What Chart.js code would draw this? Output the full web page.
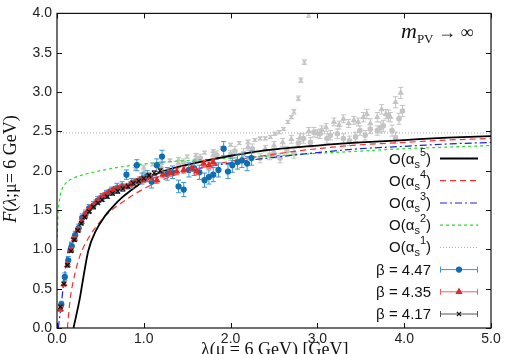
<!DOCTYPE html>
<html>
<head>
<meta charset="utf-8">
<script src="https://cdn.jsdelivr.net/npm/chart.js@4.4.1/dist/chart.umd.min.js"></script>
<style>
  html, body { margin: 0; padding: 0; background: #fff; }
  #wrap { width: 506px; height: 354px; position: relative; }
</style>
</head>
<body>
<div id="wrap"><canvas id="chart"></canvas></div>
<script>
"use strict";

// axis ticks
const xTicks = [0, 1, 2, 3, 4, 5];
const yTicks = [0, 0.5, 1, 1.5, 2, 2.5, 3, 3.5, 4];

// lattice data, beta = 4.17 / 4.35 / 4.47
const b417X = [0.04,0.08,0.12,0.16,0.20,0.24,0.28,0.32,0.37,0.42,0.47,0.52,0.58,0.64,0.70,0.76,0.82,0.88,0.94,1.00,1.06,1.12,1.19];
const b417Y = [0.27,0.56,0.80,0.98,1.12,1.24,1.33,1.41,1.48,1.54,1.59,1.63,1.67,1.71,1.74,1.77,1.80,1.84,1.87,1.90,1.94,1.97,2.00];
const b417E = [0.02,0.02,0.02,0.02,0.02,0.02,0.02,0.02,0.02,0.02,0.02,0.02,0.02,0.02,0.03,0.03,0.03,0.03,0.03,0.03,0.03,0.03,0.03];

const b435X = [0.04,0.08,0.12,0.16,0.20,0.24,0.28,0.32,0.36,0.40,0.45,0.50,0.55,0.60,0.65,0.70,0.75,0.80,0.85,0.90,0.95,1.00,1.07,1.15,1.22,1.30,1.38,1.46,1.55,1.61,1.69,1.75,1.80];
const b435Y = [0.24,0.56,0.80,0.99,1.13,1.25,1.35,1.43,1.49,1.54,1.60,1.65,1.69,1.73,1.76,1.78,1.79,1.80,1.83,1.86,1.88,1.89,1.92,1.88,1.95,1.97,1.99,2.01,2.03,1.99,2.09,2.07,2.11];
const b435E = [0.03,0.03,0.03,0.03,0.03,0.03,0.03,0.03,0.03,0.03,0.03,0.03,0.03,0.03,0.03,0.03,0.03,0.03,0.03,0.03,0.04,0.04,0.04,0.04,0.04,0.04,0.04,0.04,0.04,0.04,0.04,0.04,0.04];

const b447X = [0.05,0.09,0.13,0.17,0.21,0.25,0.29,0.33,0.37,0.42,0.47,0.52,0.57,0.63,0.69,0.75,0.80,0.86,0.92,0.98,1.04,1.09,1.15,1.21,1.27,1.33,1.40,1.46,1.52,1.58,1.64,1.70,1.75,1.80,1.86,1.92,1.97,2.02,2.08,2.13,2.19,2.24];
const b447Y = [0.30,0.65,0.86,1.04,1.18,1.27,1.40,1.45,1.52,1.56,1.62,1.66,1.70,1.74,1.78,1.80,1.95,1.84,2.07,1.90,1.93,1.86,2.07,2.18,1.96,1.98,1.80,1.76,2.01,2.03,1.98,1.88,1.92,1.95,2.01,2.28,1.99,2.07,2.11,2.13,2.09,2.16];
const b447E = [0.04,0.05,0.05,0.05,0.05,0.05,0.05,0.05,0.05,0.05,0.05,0.05,0.05,0.05,0.06,0.06,0.06,0.06,0.07,0.07,0.07,0.08,0.08,0.08,0.08,0.08,0.08,0.09,0.09,0.09,0.09,0.09,0.09,0.09,0.09,0.09,0.09,0.09,0.09,0.09,0.09,0.09];

// finite m_PV data (grey)
const grayAX = [0.90,1.00,1.10,1.20,1.30,1.40,1.50,1.60,1.70,1.80,1.90,2.00,2.10,2.20,2.28,2.34,2.40,2.46,2.51,2.56,2.61,2.66,2.70,2.73,2.78,2.81,2.85,2.90];
const grayAY = [2.02,2.05,2.08,2.10,2.13,2.15,2.18,2.20,2.23,2.25,2.29,2.33,2.35,2.37,2.39,2.41,2.41,2.43,2.47,2.49,2.53,2.62,2.68,2.75,2.92,3.15,3.38,3.98];
const grayAE = [0.02,0.02,0.02,0.02,0.02,0.02,0.02,0.02,0.02,0.02,0.02,0.02,0.02,0.02,0.02,0.02,0.02,0.02,0.02,0.02,0.02,0.02,0.02,0.03,0.03,0.03,0.03,0.03];

const grayBX = [1.00,1.20,1.40,1.60,1.80,2.00,2.20,2.40,2.50,2.60,2.70,2.80,2.90,3.00,3.05,3.10,3.19,3.25,3.30,3.36,3.42,3.47,3.53,3.57,3.61,3.69,3.74,3.79,3.84,3.90,3.96];
const grayBY = [1.98,2.05,2.10,2.15,2.20,2.22,2.30,2.28,2.32,2.36,2.40,2.42,2.50,2.47,2.52,2.55,2.62,2.58,2.66,2.60,2.64,2.62,2.68,2.72,2.60,2.68,2.78,2.72,2.68,2.87,2.99];
const grayBE = [0.03,0.03,0.03,0.03,0.04,0.04,0.04,0.04,0.05,0.05,0.05,0.05,0.05,0.05,0.05,0.05,0.05,0.05,0.05,0.05,0.05,0.05,0.06,0.06,0.06,0.06,0.06,0.06,0.06,0.07,0.07];

const grayCX = [1.20,1.46,1.65,1.84,2.00,2.05,2.15,2.25,2.34,2.45,2.50,2.57,2.65,2.73,2.78,2.84,2.92,2.96,3.03,3.11,3.15,3.23,3.30,3.37,3.44,3.49,3.55,3.61,3.69,3.73,3.76,3.82,3.86,3.90,3.94,3.98];
const grayCY = [2.00,2.10,2.16,2.20,2.18,2.25,2.22,2.28,2.16,2.20,2.22,2.16,2.25,2.22,2.35,2.41,2.36,2.49,2.47,2.41,2.45,2.47,2.41,2.38,2.43,2.51,2.45,2.53,2.51,2.55,2.57,2.70,2.51,2.42,2.66,2.76];
const grayCE = [0.04,0.05,0.05,0.05,0.05,0.06,0.06,0.06,0.06,0.06,0.06,0.06,0.06,0.06,0.06,0.06,0.06,0.06,0.06,0.06,0.06,0.06,0.06,0.06,0.06,0.06,0.06,0.06,0.06,0.07,0.07,0.07,0.07,0.07,0.07,0.07];

// perturbative curves O(as^n)
const o5X = [0.19,0.265,0.30,0.36,0.45,0.55,0.65,0.75,0.90,1.07,1.30,1.60,2.00,2.34,3.00,3.50,4.00,4.50,5.00];
const o5Y = [0.00,0.39,0.62,0.98,1.24,1.42,1.55,1.66,1.79,1.92,2.02,2.10,2.19,2.25,2.32,2.36,2.39,2.42,2.44];
const o4X = [0.12,0.15,0.20,0.265,0.36,0.48,0.60,0.78,1.00,1.30,1.60,2.00,2.50,3.00,3.50,4.00,4.50,5.00];
const o4Y = [0.00,0.35,0.66,0.92,1.14,1.33,1.47,1.62,1.77,1.92,2.02,2.12,2.21,2.28,2.33,2.36,2.39,2.41];
const o3X = [0.015,0.05,0.08,0.13,0.20,0.32,0.50,0.75,1.00,1.50,2.00,2.50,3.00,3.50,4.00,4.50,5.00];
const o3Y = [0.00,0.31,0.60,1.00,1.22,1.42,1.60,1.76,1.87,2.00,2.10,2.17,2.23,2.28,2.31,2.34,2.36];
const o2X = [0.003,0.01,0.025,0.05,0.10,0.20,0.38,0.75,1.13,1.50,2.00,2.50,3.00,3.50,4.00,4.50,5.00];
const o2Y = [1.15,1.40,1.60,1.74,1.84,1.91,1.97,2.05,2.10,2.13,2.16,2.19,2.22,2.25,2.28,2.30,2.32];
const o1X = [0, 5];
const o1Y = [2.48, 2.48];

const betaLabels = ['β = 4.47', 'β = 4.35', 'β = 4.17'];
const orderPowers = ['5', '4', '3', '2', '1'];

const SANS = '"Liberation Sans", Arial, sans-serif';
const SERIF = '"Liberation Serif", "Times New Roman", serif';

function pts(xs, ys) {
  return xs.map((x, i) => ({ x: x, y: ys[i] }));
}

function dataSet(label, xs, ys, errs, style, color, barColor, radius, order) {
  return {
    label: label, data: pts(xs, ys), err: errs, barColor: barColor,
    pointStyle: style, pointRadius: radius, borderWidth: 1.2,
    backgroundColor: color, borderColor: color, showLine: false, order: order
  };
}

function curve(label, xs, ys, color, dash, width, order) {
  return {
    label: label, data: pts(xs, ys), showLine: true, pointRadius: 0,
    borderColor: color, borderWidth: width, borderDash: dash,
    cubicInterpolationMode: 'monotone', fill: false, order: order
  };
}

const GRAY = '#c4c4c4';
const curveStyles = [
  { color: '#000000', dash: [], width: 1.8 },
  { color: '#ff3030', dash: [6, 4], width: 1.2 },
  { color: '#2020e0', dash: [7, 3, 2, 3], width: 1.2 },
  { color: '#20e020', dash: [3, 3], width: 1.2 },
  { color: '#a8a8a8', dash: [1, 2], width: 1 }
];
const betaStyles = [
  { style: 'circle', color: '#0f6fae', bar: '#3d95d4', r: 2.5 },
  { style: 'triangle', color: '#e02828', bar: '#f06060', r: 3 },
  { style: 'crossRot', color: '#111111', bar: '#555555', r: 3 }
];

// draw order: lower order ends on top
const datasets = [
  dataSet(betaLabels[2], b417X, b417Y, b417E, 'crossRot', '#111111', '#555555', 3, 1),
  dataSet(betaLabels[1], b435X, b435Y, b435E, 'triangle', '#e02828', '#f06060', 3, 2),
  dataSet(betaLabels[0], b447X, b447Y, b447E, 'circle', '#0f6fae', '#3d95d4', 2.5, 3),
  curve('O5', o5X, o5Y, curveStyles[0].color, curveStyles[0].dash, curveStyles[0].width, 4),
  curve('O4', o4X, o4Y, curveStyles[1].color, curveStyles[1].dash, curveStyles[1].width, 5),
  curve('O3', o3X, o3Y, curveStyles[2].color, curveStyles[2].dash, curveStyles[2].width, 6),
  curve('O2', o2X, o2Y, curveStyles[3].color, curveStyles[3].dash, curveStyles[3].width, 7),
  dataSet('gA', grayAX, grayAY, grayAE, 'crossRot', GRAY, GRAY, 2.5, 8),
  dataSet('gB', grayBX, grayBY, grayBE, 'triangle', GRAY, GRAY, 2.5, 9),
  dataSet('gC', grayCX, grayCY, grayCE, 'circle', GRAY, GRAY, 2.2, 10),
  curve('O1', o1X, o1Y, curveStyles[4].color, curveStyles[4].dash, curveStyles[4].width, 11)
];

// text made of runs with sub/superscripts
function textRuns(ctx, runs, x, y, alignRight) {
  let w = 0;
  runs.forEach(r => { ctx.font = r.font; r.w = ctx.measureText(r.t).width; w += r.w; });
  let cx = alignRight ? x - w : x;
  ctx.textAlign = 'left';
  ctx.textBaseline = 'alphabetic';
  runs.forEach(r => { ctx.font = r.font; ctx.fillText(r.t, cx, y + (r.dy || 0)); cx += r.w; });
  return w;
}

function errorBar(ctx, x, y1, y2, cap) {
  ctx.beginPath();
  ctx.moveTo(x, y1); ctx.lineTo(x, y2);
  ctx.moveTo(x - cap, y1); ctx.lineTo(x + cap, y1);
  ctx.moveTo(x - cap, y2); ctx.lineTo(x + cap, y2);
  ctx.stroke();
}

const overlay = {
  id: 'overlay',
  beforeDatasetDraw(chart, args) {
    const ds = chart.data.datasets[args.index];
    if (!ds.err) return;
    const ctx = chart.ctx, a = chart.chartArea;
    const xs = chart.scales.x, ys = chart.scales.y;
    ctx.save();
    ctx.beginPath();
    ctx.rect(a.left, a.top, a.right - a.left, a.bottom - a.top);
    ctx.clip();
    ctx.strokeStyle = ds.barColor;
    ctx.lineWidth = 1;
    ds.data.forEach((p, i) => {
      const e = ds.err[i];
      errorBar(ctx, xs.getPixelForValue(p.x), ys.getPixelForValue(p.y - e), ys.getPixelForValue(p.y + e), 2.5);
    });
    ctx.restore();
  },
  afterDraw(chart) {
    const ctx = chart.ctx, a = chart.chartArea;
    const xs = chart.scales.x, ys = chart.scales.y;
    ctx.save();
    // frame and inward ticks
    ctx.strokeStyle = '#111';
    ctx.lineWidth = 1.2;
    ctx.strokeRect(a.left, a.top, a.right - a.left, a.bottom - a.top);
    ctx.lineWidth = 1;
    ctx.beginPath();
    xTicks.forEach(v => {
      const px = Math.round(xs.getPixelForValue(v)) + 0.5;
      ctx.moveTo(px, a.bottom); ctx.lineTo(px, a.bottom - 5);
      ctx.moveTo(px, a.top); ctx.lineTo(px, a.top + 5);
    });
    yTicks.forEach(v => {
      const py = Math.round(ys.getPixelForValue(v)) + 0.5;
      ctx.moveTo(a.left, py); ctx.lineTo(a.left + 5, py);
      ctx.moveTo(a.right, py); ctx.lineTo(a.right - 5, py);
    });
    ctx.stroke();

    ctx.fillStyle = '#111';
    // x title
    textRuns(ctx, [
      { t: 'λ(μ = 6 GeV) [GeV]', font: '18px ' + SERIF }
    ], (a.left + a.right) / 2 - 73, 355, false);
    // y title (rotated)
    ctx.save();
    ctx.translate(16, 169);
    ctx.rotate(-Math.PI / 2);
    const yRuns = [
      { t: 'F', font: 'italic 18px ' + SERIF },
      { t: '(', font: '18px ' + SERIF },
      { t: 'λ', font: 'italic 18px ' + SERIF },
      { t: ';μ= 6 GeV)', font: '18px ' + SERIF }
    ];
    let w = 0;
    yRuns.forEach(r => { ctx.font = r.font; w += ctx.measureText(r.t).width; });
    textRuns(ctx, yRuns, -w / 2, 0, false);
    ctx.restore();

    // m_PV -> infinity
    textRuns(ctx, [
      { t: 'm', font: 'italic 22px ' + SERIF },
      { t: 'PV', font: '13px ' + SERIF, dy: 5 },
      { t: ' → ∞', font: '18px ' + SERIF }
    ], 401, 38, false);

    // legend
    const rowY = [158.5, 180.7, 203, 225.2, 247.4, 269.6, 291.8, 314];
    const textRight = 431, sx1 = 440, sx2 = 478;
    orderPowers.forEach((pw, i) => {
      const y = rowY[i];
      ctx.fillStyle = '#111';
      textRuns(ctx, [
        { t: 'O(α', font: '15px ' + SANS },
        { t: 's', font: '11px ' + SANS, dy: 4 },
        { t: pw, font: '11px ' + SANS, dy: -8 },
        { t: ')', font: '15px ' + SANS }
      ], textRight, y + 5, true);
      const st = curveStyles[i];
      ctx.strokeStyle = st.color;
      ctx.lineWidth = i === 0 ? 2.2 : st.width;
      ctx.setLineDash(st.dash);
      ctx.beginPath();
      ctx.moveTo(sx1, y); ctx.lineTo(sx2, y);
      ctx.stroke();
      ctx.setLineDash([]);
    });
    betaLabels.forEach((lb, i) => {
      const y = rowY[5 + i];
      const st = betaStyles[i];
      ctx.fillStyle = '#111';
      textRuns(ctx, [{ t: lb, font: '15px ' + SANS }], textRight, y + 5, true);
      ctx.strokeStyle = st.bar;
      ctx.lineWidth = 1;
      ctx.beginPath();
      ctx.moveTo(sx1, y); ctx.lineTo(sx2, y);
      ctx.moveTo(sx1 + 0.5, y - 3); ctx.lineTo(sx1 + 0.5, y + 3);
      ctx.moveTo(sx2 - 0.5, y - 3); ctx.lineTo(sx2 - 0.5, y + 3);
      ctx.stroke();
      ctx.fillStyle = st.color;
      ctx.strokeStyle = st.color;
      ctx.lineWidth = 1.2;
      Chart.helpers.drawPoint(ctx, { pointStyle: st.style, radius: st.r, borderWidth: 1.2, rotation: 0 }, (sx1 + sx2) / 2, y);
    });
    ctx.restore();
  }
};

const chart = new Chart(document.getElementById('chart'), {
  type: 'scatter',
  data: { datasets: datasets },
  options: {
    responsive: true,
    maintainAspectRatio: false,
    animation: false,
    layout: { padding: { top: 10, right: 15, left: 0, bottom: 0 } },
    plugins: { legend: { display: false }, tooltip: { enabled: false } },
    scales: {
      x: {
        type: 'linear', min: 0, max: 5,
        afterFit: s => { s.height = 26; },
        afterBuildTicks: s => { s.ticks = xTicks.map(v => ({ value: v })); },
        grid: { display: false, drawTicks: false },
        border: { display: false },
        ticks: { padding: 3, color: '#222', font: { family: SANS, size: 14 }, callback: v => v.toFixed(1) }
      },
      y: {
        type: 'linear', min: 0, max: 4,
        afterFit: s => { s.width = 57; },
        afterBuildTicks: s => { s.ticks = yTicks.map(v => ({ value: v })); },
        grid: { display: false, drawTicks: false },
        border: { display: false },
        ticks: { padding: 5, color: '#222', font: { family: SANS, size: 14 }, callback: v => v.toFixed(1) }
      }
    }
  },
  plugins: [overlay]
});
</script>
</body>
</html>
